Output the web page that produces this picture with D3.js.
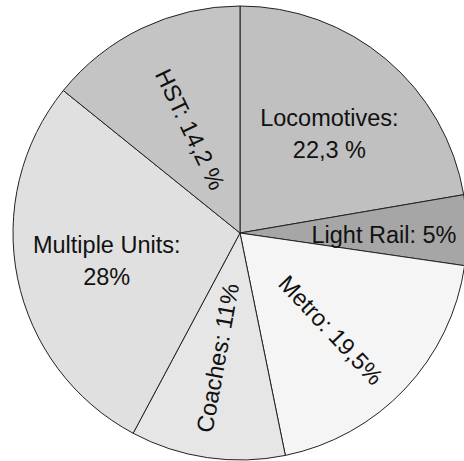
<!DOCTYPE html>
<html>
<head>
<meta charset="utf-8">
<script src="https://cdn.jsdelivr.net/npm/d3@7"></script>
<style>
    html, body { margin: 0; padding: 0; background: #fff; }
    svg { display: block; }
</style>
</head>
<body>
<div id="chart"></div>
<script>
// data, clockwise from 12 o'clock
const categories = ["Locomotives", "Light Rail", "Metro", "Coaches", "Multiple Units", "HST"];
const shares = [22.3, 5, 19.5, 11, 28, 14.2];
const labelLines = [
    ["Locomotives:", "22,3 %"],
    ["Light Rail: 5%"],
    ["Metro: 19,5%"],
    ["Coaches: 11%"],
    ["Multiple Units:", "28%"],
    ["HST: 14,2 %"]
];

// styling / label layout
const fills = ["#c0c0c0", "#a6a6a6", "#f5f5f5", "#e6e6e6", "#e0e0e0", "#c4c4c4"];
const labelRadius = [134, 144, 133, 127, 136, 115];
const labelAngleShift = [1.7, 1.5, 3.4, 2, 0, 0];
const labelRotated = [false, false, true, true, false, true];

const width = 464;
const height = 461;
const cx = 240;
const cy = 233;
const radius = 227;

const svg = d3.select("#chart")
    .append("svg")
    .attr("width", width)
    .attr("height", height);

const g = svg.append("g")
    .attr("transform", `translate(${cx}, ${cy})`);

const pie = d3.pie()
    .value(d => d)
    .sort(null);

const arcs = pie(shares);

const arc = d3.arc()
    .innerRadius(0)
    .outerRadius(radius);

g.selectAll("path.slice").data(arcs)
    .enter().append("path")
    .attr("class", "slice")
    .attr("d", arc)
    .attr("fill", (d, i) => fills[i])
    .attr("stroke", "#222")
    .attr("stroke-width", 1)
    .attr("stroke-linejoin", "round");

const fontSize = 23.5;
const lineHeight = 32;

const labels = g.selectAll("g.label").data(arcs)
    .enter().append("g")
    .attr("class", "label")
    .attr("transform", (d, i) => {
        const midDeg = (d.startAngle + d.endAngle) / 2 * 180 / Math.PI + labelAngleShift[i];
        const a = midDeg * Math.PI / 180;
        const x = labelRadius[i] * Math.sin(a);
        const y = -labelRadius[i] * Math.cos(a);
        let rot = 0;
        if (labelRotated[i]) rot = midDeg < 180 ? midDeg - 90 : midDeg - 270;
        return `translate(${x}, ${y}) rotate(${rot})`;
    });

labels.each(function (d, i) {
    const lines = labelLines[i];
    const t = d3.select(this).append("text")
        .attr("text-anchor", "middle")
        .attr("font-family", "Liberation Sans, Arial, sans-serif")
        .attr("font-size", fontSize)
        .attr("fill", "#111");
    lines.forEach((s, k) => {
        t.append("tspan")
            .attr("x", 0)
            .attr("y", (k - (lines.length - 1) / 2) * lineHeight + fontSize * 0.36)
            .text(s);
    });
});
</script>
</body>
</html>
